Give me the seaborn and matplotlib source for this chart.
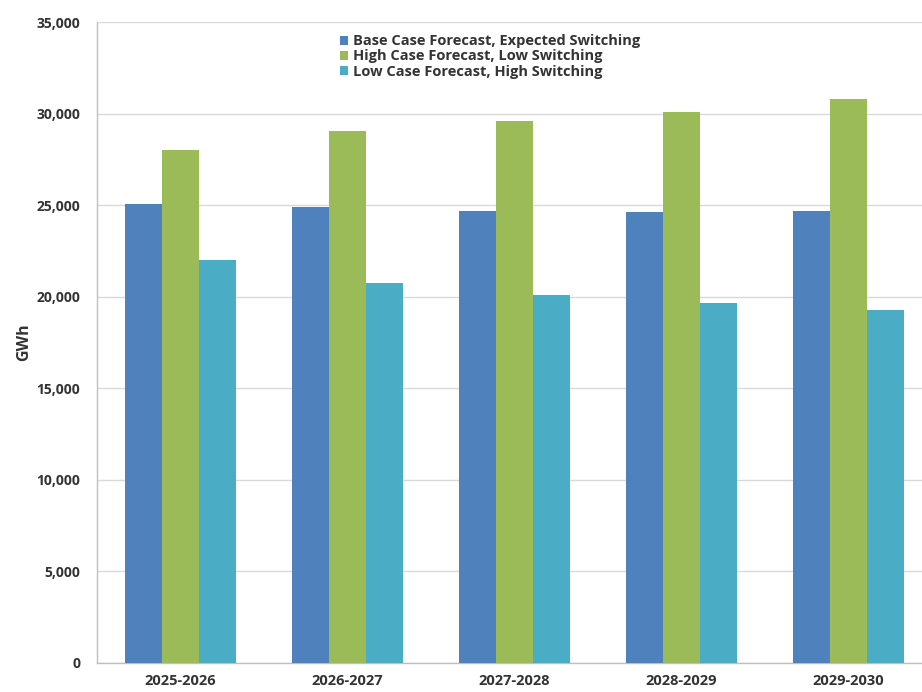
import matplotlib
matplotlib.use("Agg")
import matplotlib.pyplot as plt
import seaborn as sns
import pandas as pd
from matplotlib.ticker import FuncFormatter, MultipleLocator, FixedLocator

periods = ["2025-2026", "2026-2027", "2027-2028", "2028-2029", "2029-2030"]
series_names = [
    "Base Case Forecast, Expected Switching",
    "High Case Forecast, Low Switching",
    "Low Case Forecast, High Switching",
]
base_case = [25050, 24900, 24700, 24600, 24700]
high_case = [28000, 29050, 29600, 30100, 30800]
low_case = [22000, 20750, 20100, 19650, 19300]
colors = ["#4F81BD", "#9BBB59", "#4BACC6"]

rows = []
for name, vals in zip(series_names, [base_case, high_case, low_case]):
    for p, v in zip(periods, vals):
        rows.append({"Period": p, "Series": name, "GWh": v})
df = pd.DataFrame(rows)

sns.set_style("white")
plt.rcParams["font.family"] = ["Open Sans", "DejaVu Sans"]

W, H = 922, 692
fig = plt.figure(figsize=(W / 100, H / 100), dpi=100)
left, right, top, bottom = 97, 932, 22, 663
ax = fig.add_axes([left / W, (H - bottom) / H, (right - left) / W, (bottom - top) / H])

sns.barplot(data=df, x="Period", y="GWh", hue="Series", order=periods,
            hue_order=series_names, palette=colors, width=0.67,
            saturation=1, ax=ax, zorder=3, linewidth=0)

ax.set_ylim(0, 35000)
ax.set_xlim(-0.5, 4.5)
ax.yaxis.set_major_locator(MultipleLocator(5000))
ax.yaxis.set_major_formatter(FuncFormatter(lambda v, p: f"{int(v):,}"))
ax.grid(axis="y", color="#D9D9D9", linewidth=1, zorder=0)
ax.set_axisbelow(True)

for s in ["top", "right"]:
    ax.spines[s].set_visible(False)
for s in ["left", "bottom"]:
    ax.spines[s].set_color("#BFBFBF")
    ax.spines[s].set_linewidth(1)

ax.xaxis.set_minor_locator(FixedLocator([-0.5, 0.5, 1.5, 2.5, 3.5, 4.5]))
ax.tick_params(axis="x", which="major", length=0, pad=8, labelsize=10.5)
ax.tick_params(axis="x", which="minor", length=5, color="#BFBFBF", direction="out")
ax.tick_params(axis="y", which="major", length=5, color="#BFBFBF", direction="out",
               pad=7, labelsize=10)
for lbl in ax.get_xticklabels() + ax.get_yticklabels():
    lbl.set_fontweight("bold")
    lbl.set_color("#333333")

ax.set_xlabel("")
ax.set_ylabel("GWh", fontsize=11.5, fontweight="bold", color="#333333")
ax.yaxis.set_label_coords(-0.078, 0.5)

handles, labels = ax.get_legend_handles_labels()
ax.legend(handles, labels, loc="upper left", bbox_to_anchor=(333 / W, 1 - 27 / H),
          bbox_transform=fig.transFigure, frameon=False,
          handlelength=0.55, handleheight=0.55, handletextpad=0.3, labelspacing=0.08,
          borderpad=0, prop={"weight": "bold", "size": 10.5})
for t in ax.get_legend().get_texts():
    t.set_color("#333333")

fig.savefig("out.png", dpi=100)
